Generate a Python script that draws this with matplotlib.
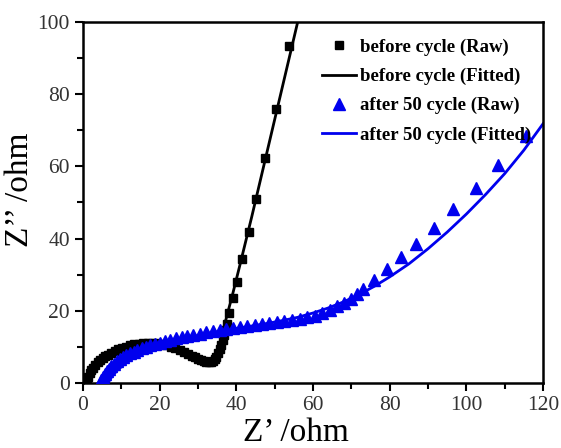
import numpy as np
import matplotlib
matplotlib.use('Agg')
import matplotlib.pyplot as plt
from matplotlib.ticker import MultipleLocator

plt.rcParams['font.family'] = ['Liberation Serif', 'DejaVu Serif']

# before cycle, raw points
x_before = [0.9, 1.1, 1.4, 1.8, 2.2, 2.7, 3.2, 3.8, 4.4, 5.1, 5.8, 6.6, 7.4, 8.3,
            9.2, 10.2, 11.2, 12.3, 13.4, 14.5, 15.7, 16.9, 18.1, 19.3, 20.5, 21.7,
            22.9, 24.1, 25.2, 26.3, 27.3, 28.3, 29.2, 30.0, 30.8, 31.5, 32.2, 32.8,
            33.4, 33.9, 34.4, 34.8, 35.2, 35.6, 36.0, 36.4, 36.8, 37.2, 37.6, 38.1,
            39.0, 40.1, 41.4, 43.3, 45.1, 47.5, 50.4, 53.8]
y_before = [0.2, 1.0, 1.8, 2.7, 3.5, 4.3, 5.0, 5.7, 6.3, 6.9, 7.4, 7.9, 8.4, 8.9,
            9.3, 9.7, 10.1, 10.4, 10.7, 10.9, 11.0, 11.1, 11.1, 11.0, 10.8, 10.4,
            10.0, 9.6, 9.1, 8.6, 8.1, 7.6, 7.1, 6.7, 6.3, 6.0, 5.8, 5.7,
            5.8, 6.1, 6.6, 7.3, 8.2, 9.3, 10.5, 11.8, 13.2, 14.7, 16.3, 19.3,
            23.5, 28.1, 34.4, 41.9, 51.0, 62.3, 75.9, 93.3]

# before cycle, fitted curve
x_before_fit = [0.8, 1.5, 2.5, 3.8, 5.5, 7.5, 10.0, 13.0, 16.5, 20.0, 23.5, 26.5,
                29.0, 31.0, 32.5, 33.5, 34.3, 35.0, 35.7, 36.5, 37.5, 39.0, 41.0,
                44.0, 48.0, 52.0, 56.0, 58.0]
y_before_fit = [0.0, 1.8, 3.5, 5.0, 6.5, 7.9, 9.2, 10.3, 10.9, 10.7, 9.8, 8.5,
                7.2, 6.3, 5.9, 6.0, 6.8, 8.5, 11.0, 14.5, 18.5, 24.5, 33.0,
                46.0, 64.0, 82.0, 100.0, 109.0]

# after 50 cycles, raw points
x_after = [4.8, 5.2, 5.7, 6.2, 6.8, 7.4, 8.1, 8.8, 9.6, 10.4, 11.3, 12.2, 13.2,
           14.2, 15.3, 16.4, 17.6, 18.8, 20.1, 21.4, 22.8, 24.2, 25.7, 27.2, 28.8,
           30.4, 32.1, 33.8, 35.6, 37.4, 39.2, 41.0, 42.9, 44.8, 46.7, 48.6, 50.5,
           52.5, 54.5, 56.5, 58.5, 60.5, 62.4, 64.4, 66.2, 68.0, 69.9, 71.5, 73.0,
           75.9, 79.2, 82.9, 86.9, 91.6, 96.5, 102.5, 108.3, 115.5]
y_after = [0.8, 1.6, 2.4, 3.2, 4.0, 4.7, 5.4, 6.0, 6.6, 7.2, 7.7, 8.2, 8.7,
           9.2, 9.6, 10.0, 10.4, 10.8, 11.2, 11.6, 12.0, 12.4, 12.8, 13.1, 13.4,
           13.7, 14.0, 14.3, 14.6, 14.9, 15.2, 15.5, 15.8, 16.0, 16.3, 16.5, 16.8,
           17.1, 17.4, 17.8, 18.2, 18.7, 19.3, 20.2, 21.2, 22.2, 23.3, 24.7, 26.0,
           28.6, 31.5, 34.8, 38.6, 43.0, 48.1, 54.0, 60.4, 68.5]

# after 50 cycles, fitted curve
x_after_fit = [6.5, 7.5, 9, 11, 13.5, 16.5, 20, 24, 28, 32, 36, 40, 44, 48, 52, 56,
               60, 64, 68, 72, 76, 80, 85, 90, 95, 100, 105, 110, 115, 120]
y_after_fit = [0.0, 1.8, 3.6, 5.4, 7.1, 8.7, 10.2, 11.6, 12.7, 13.6, 14.4, 15.1,
               15.8, 16.5, 17.3, 18.2, 19.4, 20.8, 22.5, 24.5, 26.8, 29.4, 33.0,
               37.2, 41.8, 46.8, 52.2, 58.0, 64.5, 71.8]

fig = plt.figure(figsize=(5.61, 4.48), dpi=100)
ax = fig.add_axes([0.148, 0.145, 0.82, 0.806])

blue = '#0000ee'
ax.plot(x_before, y_before, 's', color='black', ms=6.2, label='before cycle (Raw)', zorder=3)
ax.plot(x_before_fit, y_before_fit, '-', color='black', lw=2, label='before cycle (Fitted)', zorder=2)
ax.plot(x_after, y_after, '^', color=blue, ms=8, mec=blue, label='after 50 cycle (Raw)', zorder=4)
ax.plot(x_after_fit, y_after_fit, '-', color=blue, lw=2, label='after 50 cycle (Fitted)', zorder=2)

ax.set_xlim(0, 120)
ax.set_ylim(0, 100)
ax.xaxis.set_major_locator(MultipleLocator(20))
ax.xaxis.set_minor_locator(MultipleLocator(10))
ax.yaxis.set_major_locator(MultipleLocator(20))
ax.yaxis.set_minor_locator(MultipleLocator(10))
ax.tick_params(which='both', direction='out', width=1.5, top=False, right=False,
               labelsize=15.5, labelcolor='#333333')
ax.tick_params(which='major', length=6)
ax.tick_params(which='minor', length=4)
for sp in ax.spines.values():
    sp.set_linewidth(1.8)

ax.set_xlabel('Z\u2019 /ohm', fontsize=24)
ax.set_ylabel('Z\u2019\u2019 /ohm', fontsize=24)
ax.xaxis.set_label_coords(0.463, -0.095)
ax.yaxis.set_label_coords(-0.105, 0.535)

ax.legend(loc='upper left', frameon=False, prop={'weight': 'bold', 'size': 13.5},
          labelspacing=0.64, handlelength=1.8, handletextpad=0.2,
          borderpad=0, borderaxespad=0, bbox_to_anchor=(0.52, 0.954))

fig.savefig('out.png', dpi=100)
